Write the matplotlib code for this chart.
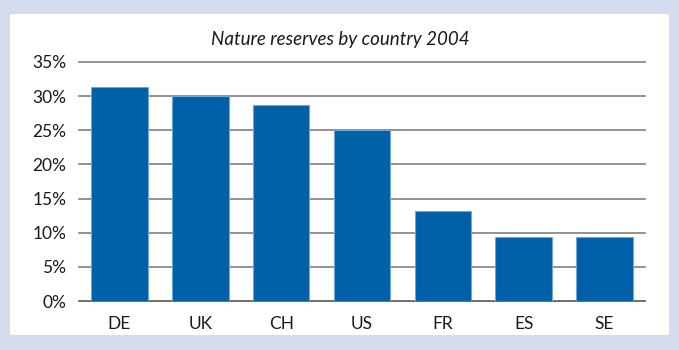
import matplotlib
matplotlib.use('Agg')
import matplotlib.pyplot as plt
from matplotlib.patches import FancyBboxPatch

# data
countries = ['DE', 'UK', 'CH', 'US', 'FR', 'ES', 'SE']
shares = [31.4, 30.0, 28.7, 25.0, 13.2, 9.4, 9.4]
yticks = [0, 5, 10, 15, 20, 25, 30, 35]

plt.rcParams['font.family'] = ['Lato', 'DejaVu Sans']

W, H = 679, 350
fig = plt.figure(figsize=(W / 100, H / 100), dpi=100)
fig.patch.set_facecolor('#d4dcee')

# white panel
panel = FancyBboxPatch((10 / W, 15 / H), (669 - 10) / W, (336 - 15) / H,
                       boxstyle='round,pad=0,rounding_size=0.004',
                       transform=fig.transFigure, facecolor='white',
                       edgecolor='none', zorder=-1)
fig.patches.append(panel)

ax = fig.add_axes([79 / W, 1 - 301 / H, (645 - 79) / W, (301 - 62) / H])
ax.set_zorder(1)
ax.set_facecolor('none')

# grid lines
for y in yticks:
    col = '#555555' if y == 0 else '#808080'
    ax.axhline(y, color=col, linewidth=1.2, zorder=1, clip_on=False)

x = range(len(countries))
ax.bar(x, shares, width=0.70, color='#0060a8', edgecolor='#6fa6d8',
       linewidth=0.8, zorder=2)

ax.set_xlim(-0.5, len(countries) - 0.5)
ax.set_ylim(0, 35)
ax.set_yticks(yticks)
ax.set_yticklabels([f'{v}%' for v in yticks])
ax.set_xticks(list(x))
ax.set_xticklabels(countries)
ax.tick_params(axis='both', length=0, labelsize=12.5, colors='#1a1a1a')
ax.tick_params(axis='y', pad=9)
ax.tick_params(axis='x', pad=11)
for s in ax.spines.values():
    s.set_visible(False)

fig.text(340 / W, 1 - 40 / H, 'Nature reserves by country 2004',
         ha='center', va='center', fontsize=13.5, style='italic',
         color='#1a1a1a')

fig.savefig('out.png', dpi=100, facecolor=fig.get_facecolor())
